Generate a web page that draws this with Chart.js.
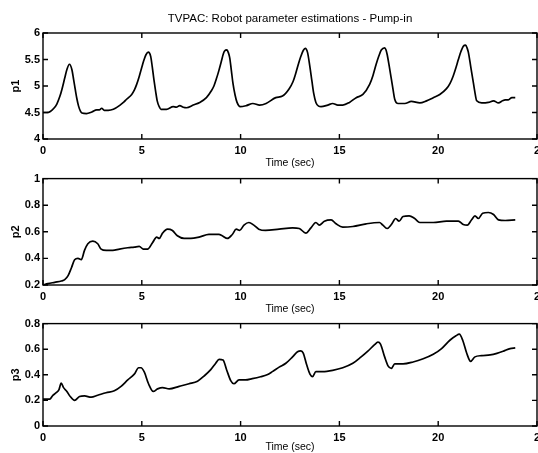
<!DOCTYPE html>
<html>
<head>
<meta charset="utf-8">
<script src="https://cdn.jsdelivr.net/npm/chart.js@4.4.1/dist/chart.umd.min.js"></script>
<style>
html,body{margin:0;padding:0;background:#fff;width:538px;height:453px;overflow:hidden;position:relative}
canvas{position:absolute;left:0;display:block}
</style>
</head>
<body>
<canvas id="c1" width="560" height="169" style="top:0px"></canvas>
<canvas id="c2" width="560" height="146" style="top:169px"></canvas>
<canvas id="c3" width="560" height="142" style="top:314px"></canvas>
<script>
// ---- Data ----
const chartTitle = "TVPAC: Robot parameter estimations - Pump-in";
const xAxisTitle = "Time (sec)";
const xTickValues = [0, 5, 10, 15, 20, 25];
const xTickLabels = ["0", "5", "10", "15", "20", "2"];

const p1TickValues = [4, 4.5, 5, 5.5, 6];
const p1TickLabels = ["4", "4.5", "5", "5.5", "6"];
const p2TickValues = [0.2, 0.4, 0.6, 0.8, 1];
const p2TickLabels = ["0.2", "0.4", "0.6", "0.8", "1"];
const p3TickValues = [0, 0.2, 0.4, 0.6, 0.8];
const p3TickLabels = ["0", "0.2", "0.4", "0.6", "0.8"];

const p1Time = [0,0.2,0.37,0.55,0.7,0.85,0.96,1.1,1.21,1.34,1.46,1.55,1.63,1.72,1.8,1.9,1.97,2.2,2.47,2.72,2.85,2.97,3.1,3.3,3.56,3.9,4.1,4.23,4.49,4.62,4.74,4.87,4.99,5.1,5.21,5.33,5.45,5.53,5.61,5.7,5.78,5.88,5.97,6.25,6.59,6.75,6.92,7.1,7.26,7.6,7.93,8.27,8.52,8.65,8.77,8.9,9.03,9.12,9.19,9.31,9.38,9.45,9.53,9.61,9.72,9.82,9.98,10.29,10.62,10.96,11.29,11.78,12.12,12.46,12.65,12.8,12.93,13.05,13.17,13.27,13.39,13.5,13.61,13.7,13.81,13.95,14.07,14.41,14.66,14.92,15.17,15.51,15.85,16.19,16.53,16.7,16.86,17.0,17.12,17.29,17.36,17.42,17.52,17.63,17.72,17.8,17.97,18.31,18.64,19.07,19.41,19.75,20.08,20.42,20.6,20.76,20.9,21.02,21.15,21.27,21.39,21.46,21.53,21.64,21.75,21.85,21.95,22.2,22.54,22.8,23.05,23.25,23.39,23.55,23.73,23.9];
const p1Values = [4.50,4.50,4.52,4.58,4.66,4.80,4.94,5.15,5.31,5.41,5.31,5.12,4.94,4.75,4.62,4.52,4.49,4.48,4.51,4.55,4.55,4.58,4.54,4.54,4.56,4.64,4.70,4.75,4.84,4.92,5.03,5.18,5.34,5.48,5.59,5.64,5.56,5.36,5.13,4.90,4.72,4.61,4.56,4.56,4.61,4.60,4.63,4.60,4.59,4.64,4.69,4.78,4.91,5.00,5.13,5.29,5.47,5.60,5.66,5.68,5.63,5.53,5.30,5.06,4.83,4.69,4.61,4.63,4.67,4.64,4.67,4.78,4.81,4.95,5.08,5.25,5.42,5.56,5.67,5.71,5.63,5.38,5.09,4.86,4.69,4.62,4.61,4.64,4.67,4.64,4.64,4.69,4.78,4.84,5.03,5.20,5.41,5.57,5.68,5.72,5.68,5.59,5.38,5.13,4.92,4.75,4.67,4.67,4.71,4.68,4.72,4.78,4.84,4.95,5.05,5.19,5.35,5.50,5.65,5.75,5.77,5.72,5.63,5.38,5.13,4.90,4.72,4.68,4.69,4.72,4.68,4.72,4.74,4.74,4.78,4.78];

const p2Time = [0,0.25,0.59,0.93,1.1,1.27,1.44,1.6,1.77,1.94,2.1,2.27,2.52,2.77,2.94,3.2,3.53,3.87,4.29,4.62,4.87,5.08,5.29,5.55,5.75,5.88,6.05,6.3,6.55,6.8,7.14,7.48,7.9,8.4,8.9,9.07,9.33,9.58,9.78,9.95,10.17,10.42,10.67,10.92,11.26,11.95,12.63,12.97,13.3,13.56,13.81,13.98,14.24,14.58,14.83,15.17,15.68,16.36,17.03,17.2,17.41,17.63,17.85,18.02,18.22,18.53,18.81,19.07,19.75,20.42,21.02,21.27,21.47,21.69,21.86,22.03,22.25,22.54,22.8,23.05,23.39,23.9];
const p2Values = [0.20,0.21,0.22,0.23,0.24,0.27,0.33,0.39,0.40,0.39,0.46,0.51,0.53,0.51,0.47,0.46,0.46,0.47,0.48,0.485,0.49,0.47,0.47,0.52,0.56,0.55,0.59,0.62,0.61,0.57,0.55,0.55,0.56,0.58,0.58,0.57,0.55,0.58,0.62,0.61,0.65,0.67,0.65,0.62,0.61,0.62,0.63,0.625,0.59,0.63,0.67,0.65,0.68,0.69,0.66,0.635,0.64,0.66,0.67,0.65,0.625,0.655,0.70,0.68,0.715,0.72,0.70,0.67,0.67,0.68,0.68,0.655,0.65,0.69,0.72,0.70,0.74,0.745,0.73,0.69,0.685,0.69];

const p3Time = [0,0.17,0.34,0.5,0.67,0.81,0.92,1.04,1.21,1.38,1.6,1.85,2.1,2.44,2.77,3.19,3.61,3.95,4.29,4.62,4.84,4.96,5.13,5.34,5.58,5.8,6.05,6.39,6.89,7.39,7.82,8.15,8.49,8.74,8.91,9.11,9.29,9.5,9.66,9.92,10.25,10.59,11.01,11.34,11.61,11.95,12.29,12.63,12.88,13.05,13.17,13.34,13.51,13.64,13.81,14.15,14.66,15.17,15.68,16.1,16.44,16.78,16.95,17.08,17.29,17.46,17.63,17.8,18.22,18.73,19.24,19.75,20.17,20.59,20.9,21.07,21.24,21.44,21.64,21.86,22.2,22.63,22.97,23.31,23.64,23.9];
const p3Values = [0.21,0.21,0.21,0.24,0.26,0.285,0.335,0.30,0.27,0.23,0.20,0.23,0.235,0.225,0.24,0.26,0.275,0.31,0.36,0.405,0.455,0.455,0.42,0.33,0.27,0.29,0.30,0.29,0.31,0.33,0.35,0.39,0.44,0.49,0.52,0.515,0.44,0.355,0.33,0.36,0.36,0.37,0.385,0.40,0.425,0.46,0.49,0.54,0.58,0.587,0.57,0.48,0.405,0.385,0.425,0.425,0.435,0.455,0.49,0.54,0.585,0.635,0.655,0.64,0.54,0.47,0.45,0.485,0.485,0.50,0.525,0.56,0.605,0.67,0.705,0.717,0.67,0.57,0.505,0.54,0.55,0.555,0.567,0.585,0.605,0.61];

// ---- Rendering ----
const FONT = "'Liberation Sans', Arial, Helvetica, sans-serif";

const framePlugin = {
  id: 'frame',
  afterDatasetsDraw(chart) {
    const {ctx, chartArea: a, scales: {x, y}} = chart;
    ctx.save();
    ctx.strokeStyle = '#000';
    ctx.lineWidth = 1.4;
    ctx.strokeRect(a.left, a.top, a.right - a.left, a.bottom - a.top);
    ctx.beginPath();
    const L = 5;
    x.ticks.forEach(t => {
      const px = x.getPixelForValue(t.value);
      ctx.moveTo(px, a.bottom); ctx.lineTo(px, a.bottom - L);
      ctx.moveTo(px, a.top); ctx.lineTo(px, a.top + L);
    });
    y.ticks.forEach(t => {
      const py = y.getPixelForValue(t.value);
      ctx.moveTo(a.left, py); ctx.lineTo(a.left + L, py);
      ctx.moveTo(a.right, py); ctx.lineTo(a.right - L, py);
    });
    ctx.stroke();
    ctx.restore();
  }
};

function makeChart(id, times, values, yTicks, yLabels, yName, padTop, withTitle, xTitlePadBottom) {
  return new Chart(document.getElementById(id), {
    type: 'line',
    data: {
      datasets: [{
        data: times.map((t, i) => ({x: t, y: values[i]})),
        borderColor: '#000',
        borderWidth: 1.7,
        pointRadius: 0,
        fill: false,
        cubicInterpolationMode: 'monotone'
      }]
    },
    options: {
      responsive: false,
      animation: false,
      events: [],
      layout: {padding: {left: 0, right: 23, top: padTop, bottom: 0}},
      plugins: {
        legend: {display: false},
        tooltip: {enabled: false},
        title: {
          display: withTitle,
          text: chartTitle,
          fullSize: false,
          color: '#000',
          font: {family: FONT, size: 11.5, weight: 'normal'},
          padding: {top: 12, bottom: 7.2}
        }
      },
      scales: {
        x: {
          type: 'linear',
          min: xTickValues[0],
          max: xTickValues[xTickValues.length - 1],
          afterBuildTicks: s => { s.ticks = xTickValues.map(v => ({value: v})); },
          afterFit: s => { s.height = 30; },
          grid: {display: false, drawTicks: false},
          border: {display: false},
          ticks: {
            callback: (v, i) => xTickLabels[i],
            color: '#000',
            font: {family: FONT, size: 11, weight: 'bold'},
            padding: 5,
            maxRotation: 0,
            autoSkip: false
          },
          title: {
            display: true,
            text: xAxisTitle,
            color: '#000',
            font: {family: FONT, size: 10.5},
            padding: {top: 0, bottom: xTitlePadBottom}
          }
        },
        y: {
          type: 'linear',
          min: yTicks[0],
          max: yTicks[yTicks.length - 1],
          afterBuildTicks: s => { s.ticks = yTicks.map(v => ({value: v})); },
          afterFit: s => { s.width = 43; },
          grid: {display: false, drawTicks: false},
          border: {display: false},
          ticks: {
            callback: (v, i) => yLabels[i],
            color: '#000',
            font: {family: FONT, size: 11, weight: 'bold'},
            padding: 3,
            autoSkip: false
          },
          title: {
            display: true,
            text: yName,
            color: '#000',
            font: {family: FONT, size: 11, weight: 'bold'},
            padding: {top: 9, bottom: 0}
          }
        }
      }
    },
    plugins: [framePlugin]
  });
}

makeChart('c1', p1Time, p1Values, p1TickValues, p1TickLabels, 'p1', 0, true, 0);
makeChart('c2', p2Time, p2Values, p2TickValues, p2TickLabels, 'p2', 7, false, 0);
makeChart('c3', p3Time, p3Values, p3TickValues, p3TickLabels, 'p3', 7, false, 3);
</script>
</body>
</html>
